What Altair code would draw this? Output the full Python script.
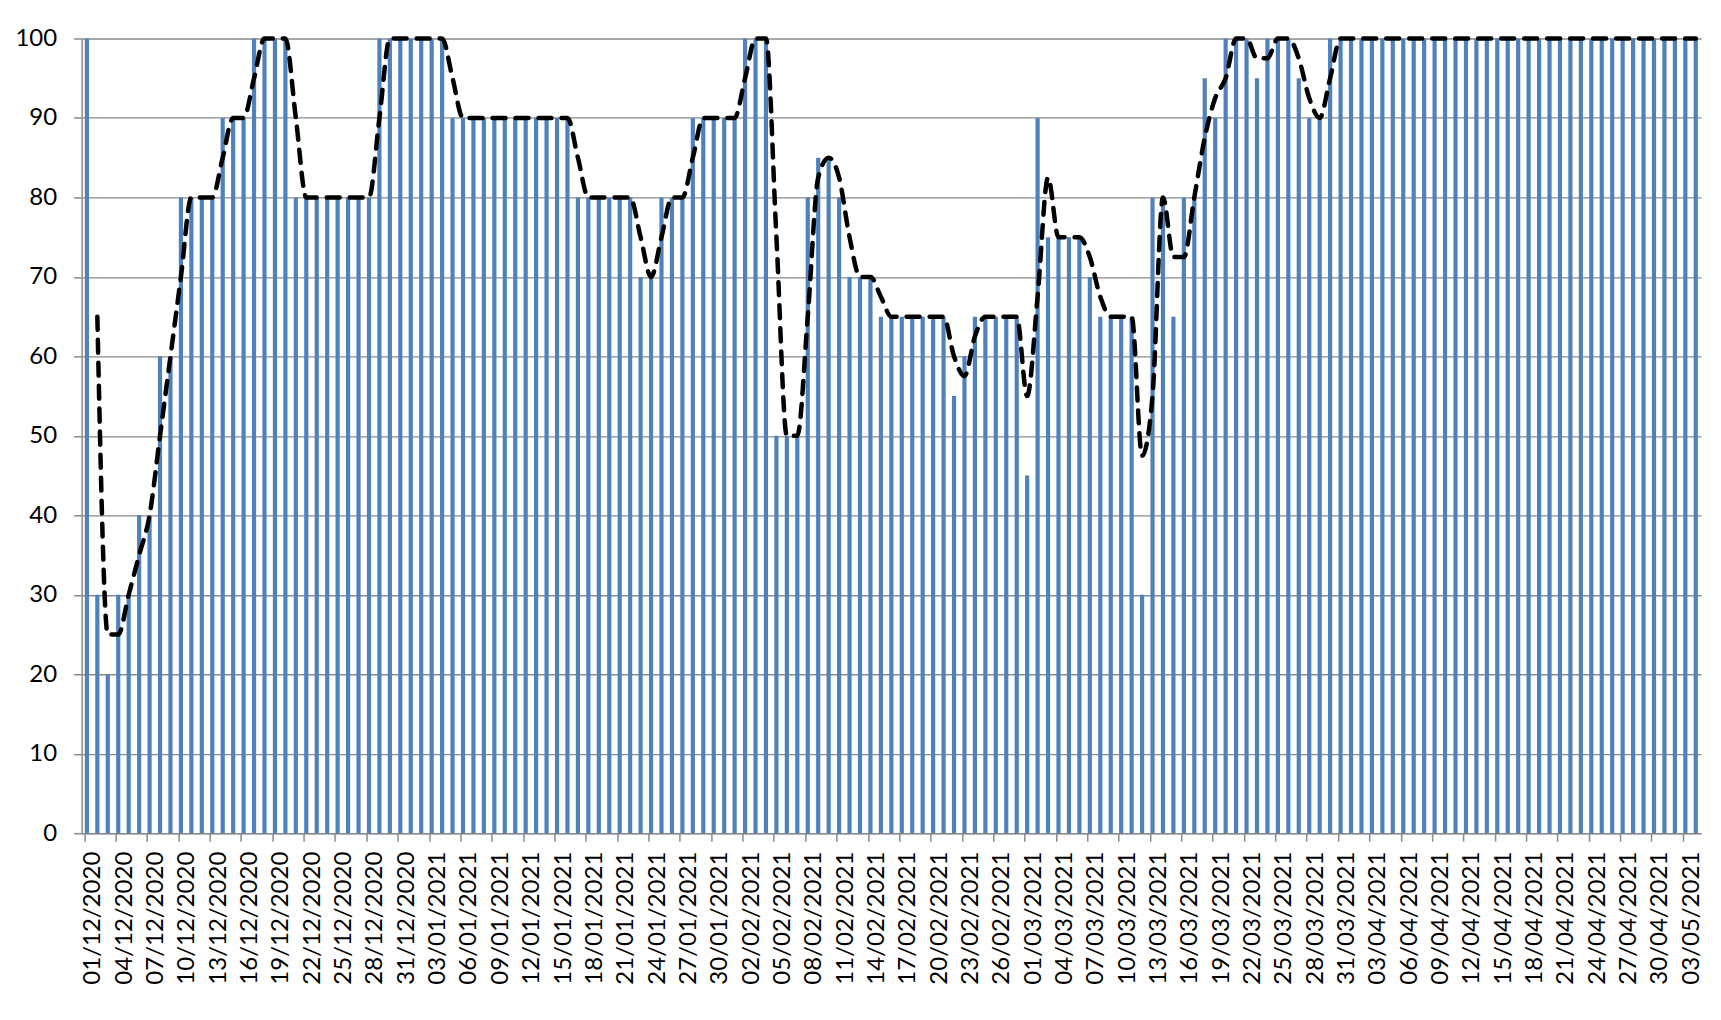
import altair as alt
import pandas as pd

# Daily dates 01/12/2020 .. 04/05/2021
dates = list(pd.date_range("2020-12-01", "2021-05-04", freq="D").strftime("%d/%m/%Y"))

# Bar values (one per day)
values = [
    100, 30, 20, 30, 30, 40, 40, 60, 60, 80,            # 01/12 - 10/12
    80, 80, 80, 90, 90, 90, 100, 100, 100, 100,         # 11/12 - 20/12
    80, 80, 80, 80, 80, 80, 80, 80, 100, 100,           # 21/12 - 30/12
    100, 100, 100, 100, 100, 90, 90, 90, 90, 90,        # 31/12 - 09/01
    90, 90, 90, 90, 90, 90, 90, 80, 80, 80,             # 10/01 - 19/01
    80, 80, 80, 70, 70, 80, 80, 80, 90, 90,             # 20/01 - 29/01
    90, 90, 90, 100, 100, 100, 50, 50, 50, 80,          # 30/01 - 08/02
    85, 85, 80, 70, 70, 70, 65, 65, 65, 65,             # 09/02 - 18/02
    65, 65, 65, 55, 60, 65, 65, 65, 65, 65,             # 19/02 - 28/02
    45, 90, 75, 75, 75, 75, 70, 65, 65, 65,             # 01/03 - 10/03
    65, 30, 80, 80, 65, 80, 80, 95, 90, 100,            # 11/03 - 20/03
    100, 100, 95, 100, 100, 100, 95, 90, 90, 100,       # 21/03 - 30/03
    100, 100, 100, 100, 100, 100, 100, 100, 100, 100,   # 31/03 - 09/04
    100, 100, 100, 100, 100, 100, 100, 100, 100, 100,   # 10/04 - 19/04
    100, 100, 100, 100, 100, 100, 100, 100, 100, 100,   # 20/04 - 29/04
    100, 100, 100, 100, 100,                            # 30/04 - 04/05
]
y_ticks = [0, 10, 20, 30, 40, 50, 60, 70, 80, 90, 100]
x_label_dates = dates[::3]

df = pd.DataFrame({"idx": list(range(len(dates))), "date": dates, "value": values})

FONT = "Lato"
GRAY = "#8a8a8a"

x_enc = alt.X(
    "date:O",
    sort=dates,
    title=None,
    scale=alt.Scale(paddingInner=0.6, paddingOuter=0.3),
    axis=alt.Axis(
        values=x_label_dates,
        labelAngle=270,
        bandPosition=0,
        labelOffset=6.5,
        tickSize=8,
        labelPadding=10,
        labelFont=FONT,
        labelFontSize=24,
        labelColor="#000000",
        domainColor=GRAY,
        tickColor=GRAY,
        domainWidth=1.5,
        tickWidth=1.5,
        grid=False,
    ),
)

y_enc = alt.Y(
    "value:Q",
    title=None,
    scale=alt.Scale(domain=[0, 100], nice=False),
    axis=alt.Axis(
        values=y_ticks,
        tickSize=8,
        labelPadding=17,
        labelFont=FONT,
        labelFontSize=24,
        labelColor="#000000",
        domainColor=GRAY,
        tickColor=GRAY,
        domainWidth=1.5,
        tickWidth=1.5,
        grid=True,
        gridColor=GRAY,
        gridWidth=1.3,
    ),
)

base = alt.Chart(df)

bars = base.mark_bar(color="#4F81BD").encode(x=x_enc, y=y_enc)

line = (
    base.transform_window(
        ma="mean(value)",
        n="count()",
        frame=[-1, 0],
        sort=[alt.SortField("idx", order="ascending")],
    )
    .transform_filter(alt.datum.n == 2)
    .mark_line(
        color="#000000",
        strokeWidth=4.5,
        strokeDash=[13, 10],
        strokeCap="round",
        interpolate="monotone",
    )
    .encode(
        x=alt.X("date:O", sort=dates),
        y=alt.Y("ma:Q"),
        order=alt.Order("idx:Q"),
    )
)

chart = (
    alt.layer(bars, line)
    .properties(
        width=1620,
        height=795,
        autosize=alt.AutoSizeParams(type="none"),
        padding={"left": 73.7, "top": 30.3, "right": 12, "bottom": 170},
        background="#ffffff",
    )
    .configure_view(stroke=None)
)

chart.save("out.html", embed_options={"renderer": "svg", "actions": False})
